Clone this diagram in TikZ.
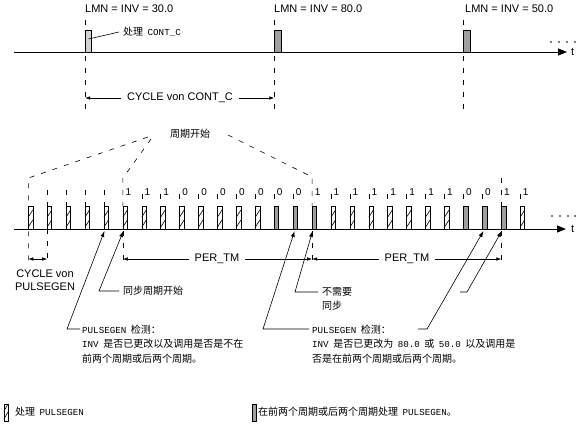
\documentclass[tikz,border=0pt]{standalone}
\usepackage{fontspec}
\setmainfont{Liberation Sans}
\newfontfamily\cjk{Noto Sans CJK SC}
\newfontfamily\hmono{Liberation Mono}[Scale=0.92]
\newcommand\hs{\hspace{4.5pt}}
\usetikzlibrary{arrows.meta}
\begin{document}
\begin{tikzpicture}[x=1pt,y=-1pt,
  axisline/.style={line width=0.9pt,-{Triangle[length=9pt,width=7pt]}},
  dsh/.style={line width=0.6pt,dash pattern=on 5pt off 7pt},
  thinl/.style={line width=0.6pt},
  arial/.style={font=\fontsize{11}{13}\selectfont,inner sep=0pt},
  digit/.style={font=\fontsize{10}{12}\selectfont,inner sep=0pt,anchor=west},
  zh/.style={font=\cjk\fontsize{10}{14.5}\selectfont,inner sep=0pt,anchor=west,align=left},
  dim/.style={line width=0.6pt,{Latex[length=5pt,width=3.5pt]}-{Latex[length=5pt,width=3.5pt]}},
  ptr/.style={line width=0.6pt,-{Latex[length=6pt,width=4pt]}},
  hbar/.style={draw,line width=0.6pt,fill=white},
  gbar/.style={draw,line width=0.6pt,fill=gray!75},
]
\useasboundingbox (0,0) rectangle (588,436);
\fill[white] (0,0) rectangle (588,436);

% ---------- top time line (CONT_C) ----------
\foreach \x in {85.1,274.3,463.5} \draw[dsh] (\x,20) -- (\x,115);
\draw[axisline] (14,52) -- (567,52);
\node[arial,anchor=west] (ttop) at (571,52) {t};
\foreach \x in {551,559,567,575} \fill (\x,42) circle (0.9);
\draw[thinl,fill=gray!35] (85.1,30) rectangle (91.6,52);
\draw[thinl,fill=gray!75] (274.3,30) rectangle (280.8,52);
\draw[thinl,fill=gray!75] (463.5,30) rectangle (470,52);
\node[arial,anchor=west] (lmn1) at (85,9) {LMN = INV = 30.0};
\node[arial,anchor=west] (lmn2) at (274,9) {LMN = INV = 80.0};
\node[arial,anchor=west] (lmn3) at (465,9) {LMN = INV = 50.0};
\node[zh] (pcc) at (123,32) {处理\hs{\hmono CONT\_C}};
\coordinate (cbar) at (88.5,39);
\draw[thinl] (cbar) -- ([xshift=-4pt]pcc.west);
\draw[dim] (85.1,98) -- (274.3,98);
\node[arial,fill=white,inner xsep=6pt,inner ysep=1pt] (cyc) at (180,98) {CYCLE von CONT\_C};

% ---------- cycle start label ----------
\node[zh,anchor=center] (zq) at (190,134) {周期开始};
\draw[dsh] (148,137) -- (28.3,178) -- (28.3,263);
\draw[dsh] (151,139) -- (122.9,178) -- (122.9,206);
\draw[dsh] (228,135) -- (312.1,177) -- (312.1,206);
\draw[dsh] (501.3,178) -- (501.3,206);
\foreach \i in {1,...,4} \draw[dsh] ({28.3+18.92*\i},190) -- ({28.3+18.92*\i},206);
\draw[dsh] (47.2,229) -- (47.2,263);
\foreach \x in {122.9,312.1,501.3} \draw[dsh] (\x,231) -- (\x,264);

% ---------- PULSEGEN time line ----------
\draw[axisline] (14,229) -- (566,229);
\node[arial,anchor=west] (tbot) at (571,229) {t};
\foreach \x in {552,560,568,575} \fill (\x,216) circle (0.9);
\foreach \i in {0,...,12,16,17,18,19,20,21,22,26}{
  \draw[hbar] ({28.3+18.92*\i},206) rectangle ({32.8+18.92*\i},229);
  \draw[thinl] ({28.3+18.92*\i},227) -- ({32.8+18.92*\i},220);
  \draw[thinl] ({28.3+18.92*\i},217) -- ({32.8+18.92*\i},210);
}
\foreach \i in {13,14,15,23,24,25}
  \draw[gbar] ({28.3+18.92*\i},206) rectangle ({32.8+18.92*\i},229);
% bit labels
\foreach \i/\v in {5/1,6/1,7/1,8/0,9/0,10/0,11/0,12/0,13/0,14/0,15/1,16/1,17/1,18/1,19/1,20/1,21/1,22/1,23/0,24/0,25/1,26/1}
  \node[digit] (b\i) at ({30.8+18.92*\i},192) {\v};
\foreach \i in {6,...,14,16,17,18,19,20,21,22,23,24,26}
  \draw[thinl] ({28.3+18.92*\i},194) -- ({28.3+18.92*\i},199);

% dimensions
\draw[dim] (28.3,259) -- (47.2,259);
\node[arial,align=center] (cycp) at (45,280) {CYCLE von\\PULSEGEN};
\draw[dim] (122.9,259) -- (312.1,259);
\node[arial,fill=white,inner xsep=6pt,inner ysep=1pt] (per1) at (217,259) {PER\_TM};
\draw[dim] (312.1,259) -- (501.3,259);
\node[arial,fill=white,inner xsep=6pt,inner ysep=1pt] (per2) at (407,259) {PER\_TM};

% ---------- explanations ----------
\node[zh] (syn) at (123,291) {同步周期开始};
\node[zh] (nosyn) at (322,299) {不需要\\同步};
\node[zh] (chk1) at (82,344) {{\hmono PULSEGEN}\hs 检测：\\{\hmono INV}\hs 是否已更改以及调用是否是不在\\前两个周期或后两个周期。};
\node[zh] (chk2) at (312,344) {{\hmono PULSEGEN}\hs 检测：\\{\hmono INV}\hs 是否已更改为\hs{\hmono 80.0}\hs 或\hs{\hmono 50.0}\hs 以及调用是\\否是在前两个周期或后两个周期。};

\coordinate (tip4) at (104.5,231);
\coordinate (tip5) at (123.4,231);
\coordinate (tip14) at (294.6,231);
\coordinate (tip15) at (312.6,231);
\coordinate (tip24) at (483.5,231);
\coordinate (tip25) at (501.8,231);
\draw[ptr] (80,329) -- (67,329) -- (tip4);
\draw[ptr] ([xshift=-4pt]syn.west) -- (99,291) -- (tip5);
\draw[ptr] (309,329) -- (263,329) -- (tip14);
\draw[ptr] (318,292) -- (295,292) -- (tip15);
\draw[ptr] (418,329) -- (427,329) -- (tip24);
\draw[ptr] (460,292) -- (467,292) -- (tip25);

% ---------- legend ----------
\draw[hbar] (4,404) rectangle (8,421);
\draw[thinl] (4,419) -- (8,412);
\draw[thinl] (4,411) -- (8,404);
\node[zh] (leg1) at (15,412) {处理\hs{\hmono PULSEGEN}};
\draw[gbar] (252,404) rectangle (256,421);
\node[zh] (leg2) at (258,412) {在前两个周期或后两个周期处理\hs{\hmono PULSEGEN}。};
\end{tikzpicture}
\end{document}
